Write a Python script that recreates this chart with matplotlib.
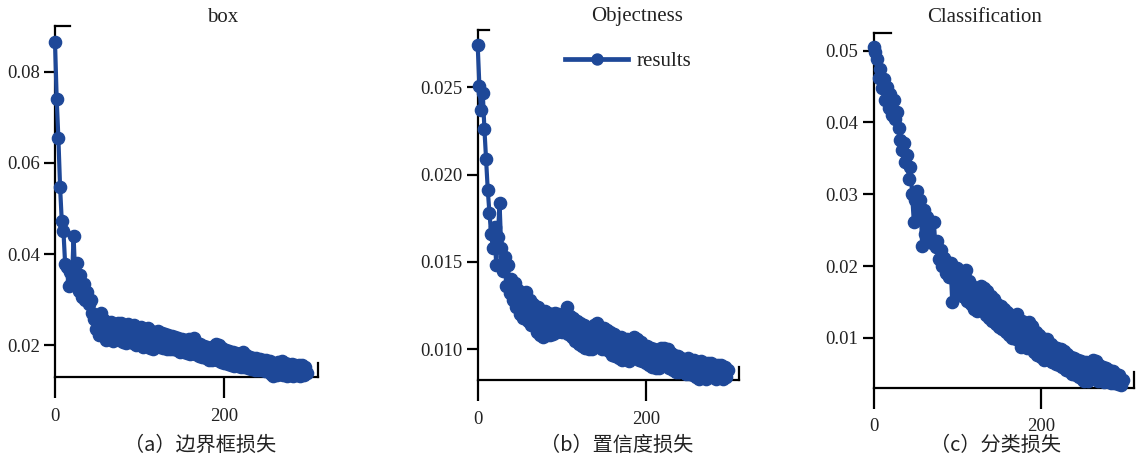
import matplotlib
matplotlib.use('Agg')
import matplotlib.pyplot as plt
from matplotlib.ticker import FormatStrFormatter

# ---------------- data ----------------
epochs = list(range(0, 300, 2))

box_loss = [
    0.0866, 0.0740, 0.0654, 0.0548, 0.0472, 0.0450, 0.0378, 0.0372, 0.0330, 0.0360,
    0.0342, 0.0440, 0.0345, 0.0380, 0.0320, 0.0355, 0.0305, 0.0335, 0.0300, 0.0318,
    0.0290, 0.0300, 0.0270, 0.0258, 0.0236, 0.0262, 0.0222, 0.0270, 0.0228, 0.0255,
    0.0212, 0.0248, 0.0218, 0.0252, 0.0210, 0.0245, 0.0215, 0.0250, 0.0212, 0.0248,
    0.0208, 0.0242, 0.0205, 0.0246, 0.0212, 0.0240, 0.0206, 0.0244, 0.0200, 0.0238,
    0.0204, 0.0240, 0.0196, 0.0236, 0.0200, 0.0238, 0.0194, 0.0232, 0.0192, 0.0230,
    0.0198, 0.0232, 0.0196, 0.0228, 0.0194, 0.0224, 0.0193, 0.0222, 0.0192, 0.0220,
    0.0191, 0.0219, 0.0189, 0.0217, 0.0186, 0.0215, 0.0185, 0.0212, 0.0184, 0.0214,
    0.0182, 0.0208, 0.0216, 0.0180, 0.0205, 0.0176, 0.0202, 0.0174, 0.0199, 0.0172,
    0.0197, 0.0169, 0.0195, 0.0167, 0.0198, 0.0203, 0.0167, 0.0200, 0.0163, 0.0194,
    0.0161, 0.0190, 0.0159, 0.0187, 0.0157, 0.0185, 0.0155, 0.0183, 0.0154, 0.0181,
    0.0153, 0.0185, 0.0152, 0.0179, 0.0151, 0.0175, 0.0149, 0.0173, 0.0147, 0.0172,
    0.0147, 0.0171, 0.0145, 0.0169, 0.0144, 0.0167, 0.0143, 0.0165, 0.0137, 0.0133,
    0.0157, 0.0135, 0.0163, 0.0137, 0.0165, 0.0135, 0.0162, 0.0133, 0.0159, 0.0135,
    0.0160, 0.0133, 0.0157, 0.0134, 0.0158, 0.0133, 0.0156, 0.0135, 0.0152, 0.0140,
]

obj_loss = [
    0.0274, 0.0251, 0.0237, 0.0247, 0.0226, 0.0209, 0.0191, 0.0178, 0.0166, 0.0158,
    0.0170, 0.0148, 0.0164, 0.0184, 0.0158, 0.0145, 0.0153, 0.0136, 0.0148, 0.0132,
    0.0140, 0.0128, 0.0138, 0.0124, 0.0134, 0.0120, 0.0132, 0.0118, 0.0130, 0.0133,
    0.0116, 0.0128, 0.0114, 0.0126, 0.0122, 0.0110, 0.0124, 0.0108, 0.0121, 0.0107,
    0.0122, 0.0108, 0.0121, 0.0108, 0.0120, 0.0109, 0.0121, 0.0110, 0.0120, 0.0118,
    0.0110, 0.0120, 0.0112, 0.0124, 0.0109, 0.0119, 0.0107, 0.0118, 0.0105, 0.0116,
    0.0103, 0.0115, 0.0102, 0.0114, 0.0101, 0.0112, 0.0100, 0.0111, 0.0100, 0.0114,
    0.0103, 0.0115, 0.0102, 0.0113, 0.0100, 0.0112, 0.0100, 0.0111, 0.0099, 0.0110,
    0.0097, 0.0109, 0.0096, 0.0107, 0.0095, 0.0107, 0.0094, 0.0105, 0.0095, 0.0106,
    0.0093, 0.0103, 0.0095, 0.0107, 0.0096, 0.0106, 0.0094, 0.0104, 0.0093, 0.0102,
    0.0092, 0.0102, 0.0091, 0.0101, 0.0090, 0.0100, 0.0089, 0.0099, 0.0089, 0.0101,
    0.0092, 0.0101, 0.0091, 0.0100, 0.0089, 0.0098, 0.0088, 0.0097, 0.0087, 0.0096,
    0.0087, 0.0095, 0.0087, 0.0094, 0.0086, 0.0095, 0.0086, 0.0093, 0.0085, 0.0094,
    0.0084, 0.0092, 0.0083, 0.0093, 0.0084, 0.0092, 0.0083, 0.0092, 0.0084, 0.0092,
    0.0084, 0.0091, 0.0083, 0.0091, 0.0084, 0.0091, 0.0083, 0.0090, 0.0084, 0.0088,
]

cls_loss = [
    0.0505, 0.0498, 0.0488, 0.0462, 0.0475, 0.0448, 0.0460, 0.0432, 0.0450, 0.0420,
    0.0440, 0.0410, 0.0432, 0.0405, 0.0415, 0.0392, 0.0375, 0.0362, 0.0372, 0.0345,
    0.0355, 0.0322, 0.0338, 0.0300, 0.0262, 0.0292, 0.0305, 0.0270, 0.0292, 0.0228,
    0.0278, 0.0245, 0.0268, 0.0238, 0.0262, 0.0232, 0.0262, 0.0226, 0.0235, 0.0210,
    0.0222, 0.0200, 0.0212, 0.0190, 0.0206, 0.0185, 0.0204, 0.0150, 0.0198, 0.0176,
    0.0198, 0.0162, 0.0192, 0.0158, 0.0188, 0.0195, 0.0152, 0.0180, 0.0148, 0.0172,
    0.0140, 0.0168, 0.0138, 0.0166, 0.0172, 0.0140, 0.0170, 0.0132, 0.0166, 0.0128,
    0.0158, 0.0124, 0.0154, 0.0120, 0.0148, 0.0115, 0.0145, 0.0112, 0.0140, 0.0108,
    0.0136, 0.0104, 0.0132, 0.0100, 0.0128, 0.0098, 0.0133, 0.0100, 0.0088, 0.0124,
    0.0094, 0.0118, 0.0086, 0.0122, 0.0090, 0.0116, 0.0080, 0.0108, 0.0076, 0.0104,
    0.0074, 0.0100, 0.0070, 0.0094, 0.0098, 0.0070, 0.0092, 0.0066, 0.0088, 0.0064,
    0.0086, 0.0062, 0.0084, 0.0060, 0.0082, 0.0056, 0.0078, 0.0054, 0.0074, 0.0050,
    0.0072, 0.0048, 0.0070, 0.0046, 0.0068, 0.0042, 0.0040, 0.0066, 0.0040, 0.0064,
    0.0044, 0.0070, 0.0048, 0.0068, 0.0040, 0.0062, 0.0042, 0.0060, 0.0039, 0.0058,
    0.0040, 0.0056, 0.0038, 0.0054, 0.0037, 0.0050, 0.0036, 0.0048, 0.0035, 0.0042,
]

titles = ['box', 'Objectness', 'Classification']
captions = ['（a）边界框损失', '（b）置信度损失', '（c）分类损失']
series_label = 'results'
xticks = [0, 200]
box_yticks = [0.02, 0.04, 0.06, 0.08]
obj_yticks = [0.010, 0.015, 0.020, 0.025]
cls_yticks = [0.01, 0.02, 0.03, 0.04, 0.05]

# ---------------- style ----------------
W, H = 1145, 462
LINE_COLOR = '#1e4898'
SERIF = ['Liberation Serif', 'DejaVu Serif']
CJK = ['Noto Sans CJK SC', 'DejaVu Sans']
TEXT_COLOR = '#222222'
SPINE_W = 1.6

fig = plt.figure(figsize=(W / 100, H / 100), dpi=100)

# pixel layout: (left, right, bottom, top), xlim max, ylim, top cap (x units), right cap (y units)
panels = [
    dict(vals=box_loss, yt=box_yticks, fmt='%.2f', px=(55, 318, 377.3, 25.7),
         xmax=311, ylim=(0.0130, 0.0901), topcap=18, rightcap=0.0031,
         title_x=223, cap_x=200),
    dict(vals=obj_loss, yt=obj_yticks, fmt='%.3f', px=(477.7, 739.3, 380, 30),
         xmax=311.4, ylim=(0.00824, 0.02828), topcap=14, rightcap=0.00075,
         title_x=637, cap_x=617),
    dict(vals=cls_loss, yt=cls_yticks, fmt='%.2f', px=(873.7, 1134.3, 387.7, 32.7),
         xmax=312, ylim=(0.00308, 0.0525), topcap=21, rightcap=0.0022,
         title_x=985, cap_x=996),
]

for i, p in enumerate(panels):
    l, r, b, t = p['px']
    ax = fig.add_axes([l / W, 1 - b / H, (r - l) / W, (b - t) / H])
    ax.patch.set_alpha(0)
    ax.plot(epochs, p['vals'], color=LINE_COLOR, lw=3.0, marker='o', ms=8.8,
            clip_on=False, zorder=3, label=series_label)
    ax.set_xlim(0, p['xmax'])
    ax.set_ylim(*p['ylim'])
    for s in ['left', 'bottom', 'top', 'right']:
        ax.spines[s].set_linewidth(SPINE_W)
        ax.spines[s].set_color('black')
    ax.spines['top'].set_bounds(0, p['topcap'])
    ax.spines['right'].set_bounds(p['ylim'][0], p['ylim'][0] + p['rightcap'])
    ax.set_xticks(xticks)
    ax.set_yticks(p['yt'])
    ax.yaxis.set_major_formatter(FormatStrFormatter(p['fmt']))
    ax.tick_params(axis='x', length=15, width=SPINE_W, pad=7, direction='out',
                   top=False, labelsize=13.5, labelcolor=TEXT_COLOR)
    ax.tick_params(axis='y', length=8, width=SPINE_W, pad=3, direction='out',
                   right=False, labelsize=13.5, labelcolor=TEXT_COLOR)
    for lab in ax.get_xticklabels() + ax.get_yticklabels():
        lab.set_family(SERIF)
    if i == 1:
        leg = ax.legend(loc='center left', bbox_to_anchor=(0.335, 0.911),
                        frameon=False, handlelength=3.0, handletextpad=0.4,
                        borderpad=0, borderaxespad=0, markerscale=0.9,
                        prop={'family': SERIF, 'size': 15})
        for txt in leg.get_texts():
            txt.set_color(TEXT_COLOR)
        for h in leg.legend_handles:
            h.set_linewidth(3.4)
    fig.text(p['title_x'] / W, 1 - 17 / H, titles[i], ha='center', va='center',
             fontsize=15, family=SERIF, color=TEXT_COLOR)
    fig.text(p['cap_x'] / W, 1 - 445 / H, captions[i], ha='center', va='center',
             fontsize=14.5, family=CJK, color=TEXT_COLOR)

fig.savefig('out.png', dpi=100)
